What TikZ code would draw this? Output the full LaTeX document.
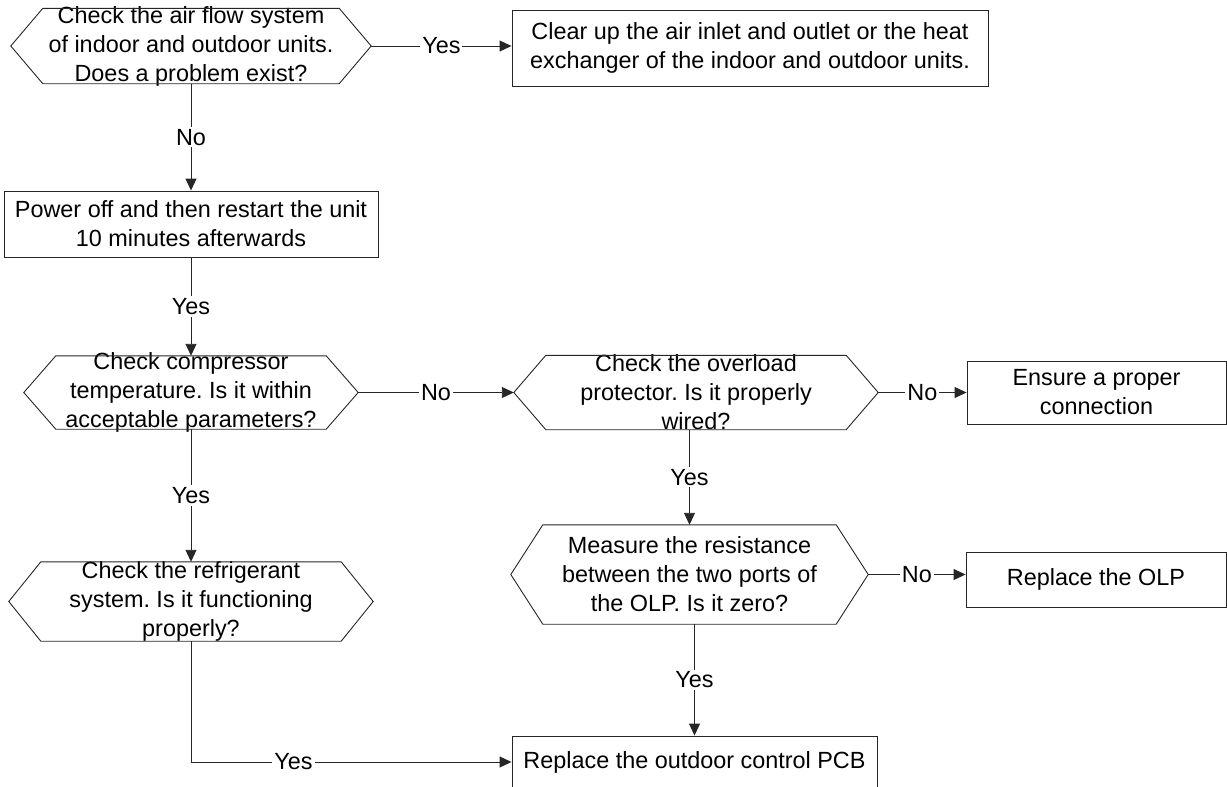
\documentclass[tikz,border=0pt]{standalone}
\usepackage{fontspec}
\setmainfont{Liberation Sans}
\usetikzlibrary{arrows.meta, positioning}
\frenchspacing

\begin{document}
\begin{tikzpicture}[x=1pt, y=-1pt, >={Triangle[length=12pt, width=11pt]},
  font=\fontsize{23.4}{29}\selectfont,
  line/.style={draw=black!85, line width=0.9pt},
  flow/.style={line, ->},
  box/.style={line, align=center, inner sep=0pt},
  decision/.style={inner sep=0pt},
  txt/.style={align=center, inner sep=0pt},
  lbl/.style={fill=white, inner sep=2pt}]

  \useasboundingbox (0,0) rectangle (1227,787);

  % decisions (text only, outline drawn below)
  \node[decision, minimum width=360pt, minimum height=75pt,
    label={[txt]center:{Check the air flow system\\of indoor and outdoor units.\\Does a problem exist?}}] (q1) at (191,46) {};
  \node[decision, minimum width=334pt, minimum height=73pt,
    label={[txt]center:{Check compressor\\temperature. Is it within\\acceptable parameters?}}] (q2) at (191,392.5) {};
  \node[decision, minimum width=364pt, minimum height=74pt,
    label={[txt]center:{Check the overload\\protector. Is it properly\\wired?}}] (q3) at (696,392.5) {};
  \node[decision, minimum width=364pt, minimum height=79pt,
    label={[txt]center:{Check the refrigerant\\system. Is it functioning\\properly?}}] (q4) at (191,601.5) {};
  \node[decision, minimum width=357pt, minimum height=99pt,
    label={[txt]center:{Measure the resistance\\between the two ports of\\the OLP. Is it zero?}}] (q5) at (689.5,574.5) {};

  \foreach \n in {q1,q2,q3,q4,q5}
    \draw[line] (\n.west) -- ([xshift=32pt]\n.north west) -- ([xshift=-32pt]\n.north east)
      -- (\n.east) -- ([xshift=-32pt]\n.south east) -- ([xshift=32pt]\n.south west) -- cycle;

  % actions
  \node[box, minimum width=476pt, minimum height=76pt] (clear) at (750,48)
    {Clear up the air inlet and outlet or the heat\\exchanger of the indoor and outdoor units.};
  \node[box, minimum width=374pt, minimum height=66pt] (power) at (191,224)
    {Power off and then restart the unit\\10 minutes afterwards};
  \node[box, minimum width=259pt, minimum height=63pt] (ensure) at (1096.5,392.5)
    {Ensure a proper\\connection};
  \node[box, minimum width=260pt, minimum height=55pt] (olp) at (1096,579.5)
    {Replace the OLP};
  \node[box, minimum width=365pt, minimum height=52pt] (pcb) at (694.5,762)
    {Replace the outdoor control PCB};

  % connectors
  \draw[flow] (q1.east) -- node[lbl]{Yes} (q1.east -| clear.west);
  \draw[flow] (q1.south) -- node[lbl]{No} (power.north);
  \draw[flow] (power.south) -- node[lbl]{Yes} (q2.north);
  \draw[flow] (q2.east) -- node[lbl]{No} (q3.west);
  \draw[flow] (q2.south) -- node[lbl]{Yes} (q4.north);
  \draw[flow] (q3.east) -- node[lbl]{No} (ensure.west);
  \draw[flow] (q3.south -| q5.north) -- node[lbl]{Yes} (q5.north);
  \draw[flow] (q5.east) -- node[lbl]{No} (q5.east -| olp.west);
  \draw[flow] (q5.south -| pcb.north) -- node[lbl]{Yes} (pcb.north);
  \draw[flow] (q4.south) |- node[lbl, pos=0.66]{Yes} (pcb.west);
\end{tikzpicture}
\end{document}
